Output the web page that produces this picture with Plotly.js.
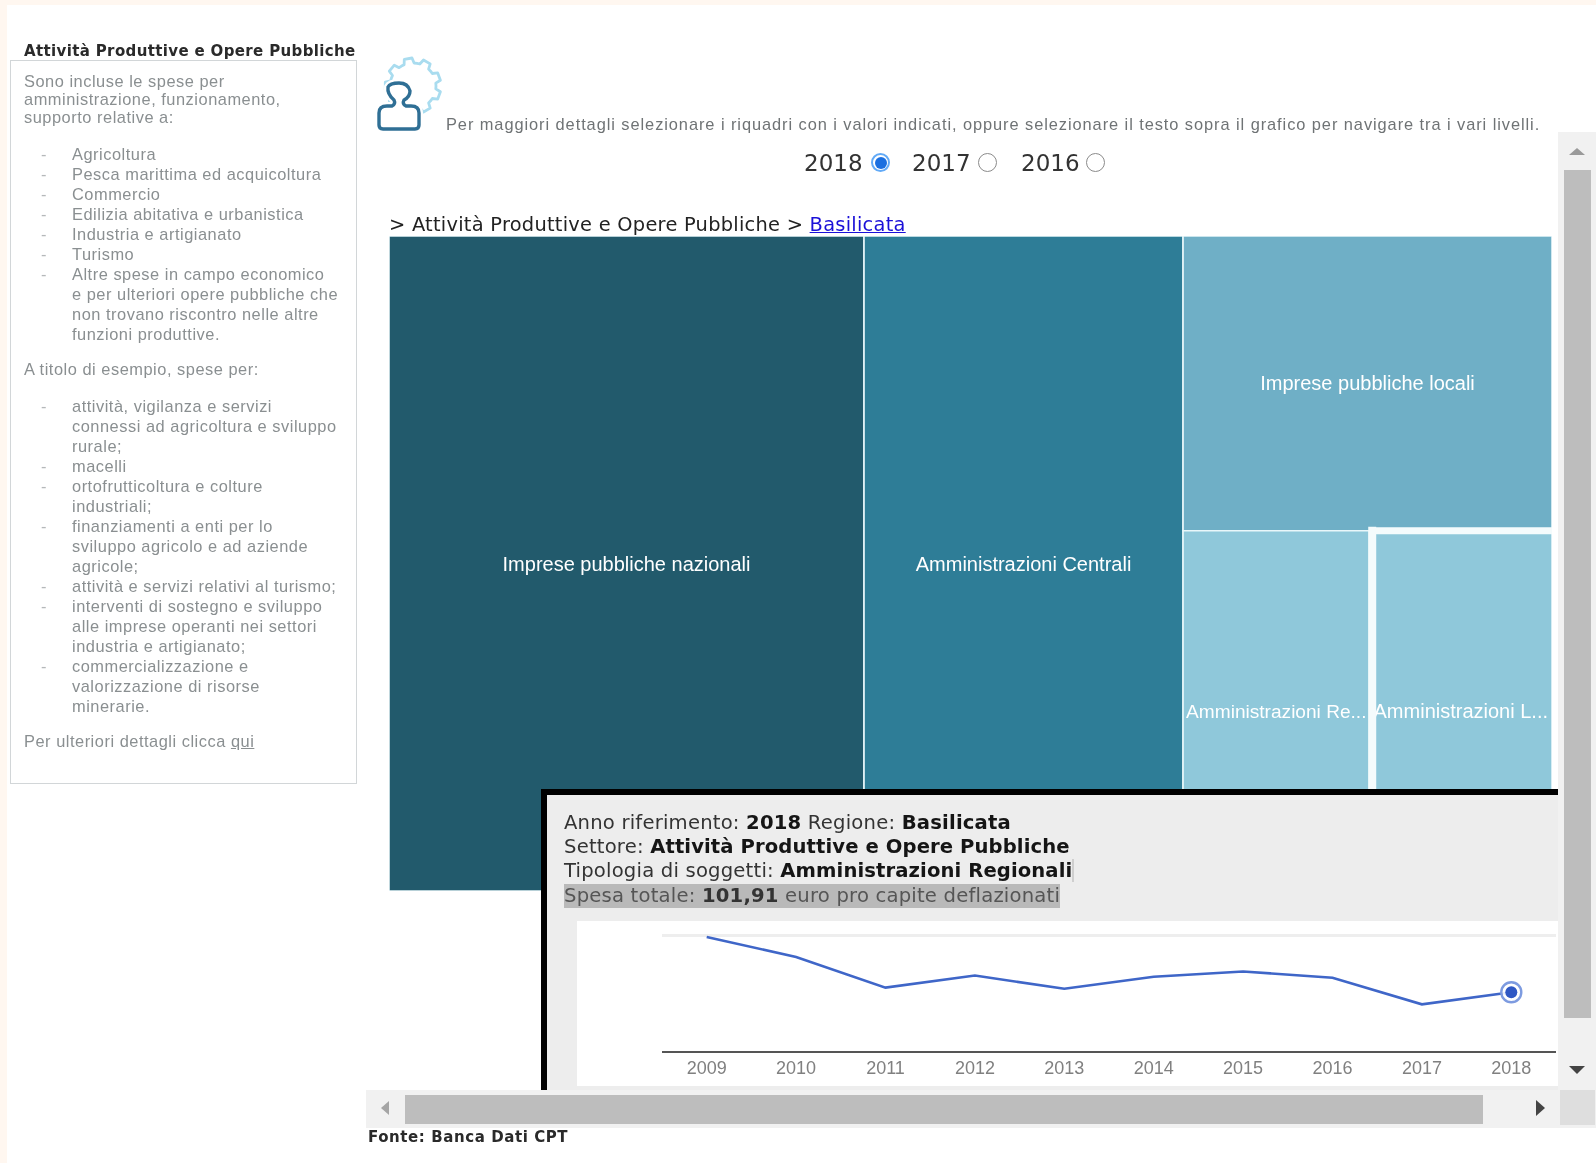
<!DOCTYPE html>
<html lang="it"><head><meta charset="utf-8">
<script src="https://cdn.plot.ly/plotly-3.0.1.min.js"></script>
<style>
html{background:#fff}
html,body{margin:0;padding:0;width:1596px;height:1163px;overflow:hidden;position:relative}
body{background:#fff;filter:blur(.45px)}
.a{position:absolute;white-space:nowrap}
#topband{left:0;top:0;width:1596px;height:5px;background:#fff7f0}
#leftband{left:0;top:0;width:7px;height:1163px;background:#fff7f0}
#sideTitle{left:24px;top:42px;font:bold 15px "DejaVu Sans",sans-serif;color:#2a2a2a;letter-spacing:.36px}
#sideBox{left:10px;top:60px;width:345px;height:722px;border:1px solid #d2d6d8;box-sizing:content-box}
.s{font:16.4px/20px "Liberation Sans",Arial,sans-serif;color:#8a8f91;letter-spacing:.52px}
.dash{color:#b5b8ba}
#hint{left:446px;top:114px;font:16.4px/20px "Liberation Sans",Arial,sans-serif;color:#6f7375;letter-spacing:.93px}
.yr{font:23px/28px "DejaVu Sans",sans-serif;color:#333;top:149px}
.radio{width:17px;height:17px;border-radius:50%;border:1.5px solid #8b8b8b;top:153px;background:#fff}
.radio.on{border:2.5px solid #62aaf7;width:15px;height:15px}
.radio.on i{position:absolute;left:1.5px;top:1.5px;width:12px;height:12px;border-radius:50%;background:#1a6fe0}
#crumb{left:389px;top:212px;font:19.4px/26px "DejaVu Sans",sans-serif;color:#222;letter-spacing:.26px}
#crumb a{color:#1a10d8;text-decoration:underline}
#tree{left:389px;top:236px;width:1163px;height:655px}
#pop{left:541px;top:789px;width:1017px;height:301px;background:#ededed;overflow:hidden;border-left:6px solid #000;border-top:6px solid #000;box-sizing:border-box}
.p{left:564px;font:19.6px/24px "DejaVu Sans",sans-serif;color:#333;letter-spacing:.2px}
.p b{color:#151515}
#line{left:577px;top:921px;width:981px;height:165px;background:#fff}
#vtrack{left:1558px;top:132px;width:38px;height:958px;background:#f1f1f1}
#vthumb{left:1564px;top:170px;width:27px;height:848px;background:#bdbdbd}
#htrack{left:366px;top:1090px;width:1230px;height:38px;background:#f1f1f1}
#hthumb{left:405px;top:1095px;width:1078px;height:29px;background:#bdbdbd}
#corner{left:1560px;top:1090px;width:35px;height:35px;background:#dedede}
.arr{width:0;height:0;border-style:solid}
#up{left:1569px;top:148px;border-width:0 8px 7px 8px;border-color:transparent transparent #9a9a9a transparent}
#down{left:1569px;top:1066px;border-width:8px 8px 0 8px;border-color:#444 transparent transparent transparent}
#lft{left:381px;top:1101px;border-width:7px 8px 7px 0;border-color:transparent #a5a5a5 transparent transparent}
#rgt{left:1536px;top:1100px;border-width:8px 0 8px 9px;border-color:transparent transparent transparent #444}
#fonte{left:368px;top:1127px;font:bold 15px/20px "DejaVu Sans",sans-serif;color:#2a2a2a;letter-spacing:.58px}
</style></head><body>
<div class="a" id="topband"></div><div class="a" id="leftband"></div>

<div class="a" id="sideTitle">Attività Produttive e Opere Pubbliche</div>
<div class="a" id="sideBox"></div>
<div class="a s" style="left:24px;top:72px;line-height:18px">Sono incluse le spese per<br>amministrazione, funzionamento,<br>supporto relative a:</div>
<div class="a s dash" style="left:41px;top:144px">-<br>-<br>-<br>-<br>-<br>-<br>-</div>
<div class="a s" style="left:72px;top:144px">Agricoltura<br>Pesca marittima ed acquicoltura<br>Commercio<br>Edilizia abitativa e urbanistica<br>Industria e artigianato<br>Turismo<br>Altre spese in campo economico<br>e per ulteriori opere pubbliche che<br>non trovano riscontro nelle altre<br>funzioni produttive.</div>
<div class="a s" style="left:24px;top:359px">A titolo di esempio, spese per:</div>
<div class="a s dash" style="left:41px;top:396px">-<br><br><br>-<br>-<br><br>-<br><br><br>-<br>-<br><br><br>-</div>
<div class="a s" style="left:72px;top:396px">attività, vigilanza e servizi<br>connessi ad agricoltura e sviluppo<br>rurale;<br>macelli<br>ortofrutticoltura e colture<br>industriali;<br>finanziamenti a enti per lo<br>sviluppo agricolo e ad aziende<br>agricole;<br>attività e servizi relativi al turismo;<br>interventi di sostegno e sviluppo<br>alle imprese operanti nei settori<br>industria e artigianato;<br>commercializzazione e<br>valorizzazione di risorse<br>minerarie.</div>
<div class="a s" style="left:24px;top:731px">Per ulteriori dettagli clicca <u>qui</u></div>

<svg class="a" style="left:370px;top:50px" width="80" height="90" viewBox="0 0 80 90">
 <path id="gear" fill="none" stroke="#a9dcef" stroke-width="2.8" stroke-linejoin="round"/>
 <path d="M13 79 Q9 79 9 75 L9 63 Q9 56 17 56 L22 56 Q26 54 24 50 Q17 44 18 37 Q20 33 29 33 Q38 33 40 41 Q40 47 34 50 Q32 54 36 56 L41 56 Q49 56 49 63 L49 75 Q49 79 45 79 Z" fill="#fff" stroke="#fff" stroke-width="8"/>
 <path d="M13 79 Q9 79 9 75 L9 63 Q9 56 17 56 L22 56 Q26 54 24 50 Q17 44 18 37 Q20 33 29 33 Q38 33 40 41 Q40 47 34 50 Q32 54 36 56 L41 56 Q49 56 49 63 L49 75 Q49 79 45 79 Z" fill="none" stroke="#2f6f95" stroke-width="3.4" stroke-linejoin="round"/>
</svg>
<div class="a" id="hint">Per maggiori dettagli selezionare i riquadri con i valori indicati, oppure selezionare il testo sopra il grafico per navigare tra i vari livelli.</div>

<div class="a yr" style="left:804px">2018</div><div class="a radio on" style="left:871px"><i></i></div>
<div class="a yr" style="left:912px">2017</div><div class="a radio" style="left:978px"></div>
<div class="a yr" style="left:1021px">2016</div><div class="a radio" style="left:1086px"></div>

<div class="a" id="crumb">&gt; Attività Produttive e Opere Pubbliche &gt; <a>Basilicata</a></div>

<div class="a" id="tree"></div>

<div class="a" id="vtrack"></div><div class="a" id="vthumb"></div><div class="a arr" id="up"></div><div class="a arr" id="down"></div>
<div class="a" id="htrack"></div><div class="a" id="hthumb"></div><div class="a" id="corner"></div><div class="a arr" id="lft"></div><div class="a arr" id="rgt"></div>

<div class="a" id="pop"></div>
<div class="a p" style="top:811px">Anno riferimento: <b>2018</b> Regione: <b>Basilicata</b></div>
<div class="a p" style="top:835px">Settore: <b style="letter-spacing:.1px">Attività Produttive e Opere Pubbliche</b></div>
<div class="a p" style="top:859px">Tipologia di soggetti: <b style="letter-spacing:.1px">Amministrazioni Regionali</b><span style="background:#cfcfcf">&#8202;</span></div>
<div class="a p" style="top:884px;background:#b9b9b9;color:#555"><span>Spesa totale: <b style="color:#333">101,91</b> euro pro capite deflazionati</span></div>
<div class="a" id="line"></div>

<div class="a" id="fonte">Fonte: Banca Dati CPT</div>

<script>
var treeLabels = ["Imprese pubbliche nazionali","Amministrazioni Centrali","Imprese pubbliche locali","Amministrazioni Re...","Amministrazioni L..."];
var treeValues = [472,317,165,101.91,99.7];
var treeColors = ["#225a6c","#2e7d97","#6fafc6","#8fc8da","#8fc8da"];
var years = ["2009","2010","2011","2012","2013","2014","2015","2016","2017","2018"];
var spesa = [198,163,110,131,108,129,138,127,81,101.91];
var selectedYear = ["2018"];
var selectedSpesa = [101.91];

// decorative gear outline of the icon
(function(){
  var cx=43,cy=36,teeth=9,d="";
  for(var i=0;i<teeth;i++){
    var s=i/teeth*2*Math.PI;
    var st=2*Math.PI/teeth;
    [[0,23],[.18,23],[.3,28],[.7,28],[.82,23]].forEach(function(p,j){
      var t=s+p[0]*st;
      d+=((i===0&&j===0)?"M":"L")+(cx+p[1]*Math.cos(t)).toFixed(1)+" "+(cy+p[1]*Math.sin(t)).toFixed(1)+" ";
    });
  }
  document.getElementById("gear").setAttribute("d",d+"Z");
})();

// the heavy white edge round the last tile follows from the values
var total = treeValues.reduce(function(a,b){return a+b;},0);
var lastColumn = treeValues[2]+treeValues[3]+treeValues[4];
var lastRow = treeValues[3]+treeValues[4];
var edgeX = 1-(lastColumn/total)*(treeValues[4]/lastRow);
var edgeY = lastRow/lastColumn;

Plotly.newPlot("tree",[{
  type:"treemap",
  labels:treeLabels,
  parents:treeLabels.map(function(){return "";}),
  values:treeValues,
  textinfo:"label",
  textposition:"middle center",
  sort:true,
  marker:{colors:treeColors,line:{color:"#e9f7fa",width:1.6},pad:{t:0,l:0,r:0,b:0}},
  textfont:{family:"Liberation Sans, Arial, sans-serif",size:20,color:"#ffffff"},
  insidetextfont:{family:"Liberation Sans, Arial, sans-serif",size:20,color:"#ffffff"},
  pathbar:{visible:false},
  tiling:{packing:"squarify",pad:0},
  hoverinfo:"label+value"
}],{margin:{l:0,r:0,t:0,b:0},width:1163,height:655,paper_bgcolor:"#ffffff",showlegend:false,
 shapes:[
  {type:"line",xref:"paper",yref:"paper",x0:edgeX+0.0023,x1:edgeX+0.0023,y0:0,y1:edgeY+0.006,line:{color:"#f4fbfc",width:8}},
  {type:"line",xref:"paper",yref:"paper",x0:edgeX,x1:1,y0:edgeY,y1:edgeY,line:{color:"#f4fbfc",width:7}}
 ]},{displayModeBar:false});

Plotly.newPlot("line",[
 {type:"scatter",mode:"lines",x:years,y:spesa,line:{color:"#3f66c8",width:2.6},hoverinfo:"x+y"},
 {type:"scatter",mode:"markers",x:selectedYear,y:selectedSpesa,marker:{size:20,color:"rgba(255,255,255,0.9)",line:{color:"#7d9be0",width:2.4}},hoverinfo:"skip"},
 {type:"scatter",mode:"markers",x:selectedYear,y:selectedSpesa,marker:{size:12,color:"#2f58c4"},hoverinfo:"x+y"}
],{
 width:981,height:165,margin:{l:85,r:2,t:9,b:35},paper_bgcolor:"#ffffff",plot_bgcolor:"#ffffff",showlegend:false,
 xaxis:{type:"category",range:[-0.5,9.5],showgrid:false,showline:true,linecolor:"#555",linewidth:1.5,ticks:"",ticklen:1,tickfont:{family:"Liberation Sans, Arial, sans-serif",size:18,color:"#808080"},zeroline:false,fixedrange:true,automargin:false},
 yaxis:{range:[0,210],tickvals:[200],showticklabels:false,showgrid:true,gridcolor:"#eeeeee",gridwidth:3,zeroline:false,showline:false,ticks:"",fixedrange:true,automargin:false}
},{displayModeBar:false});
</script>
</body></html>
